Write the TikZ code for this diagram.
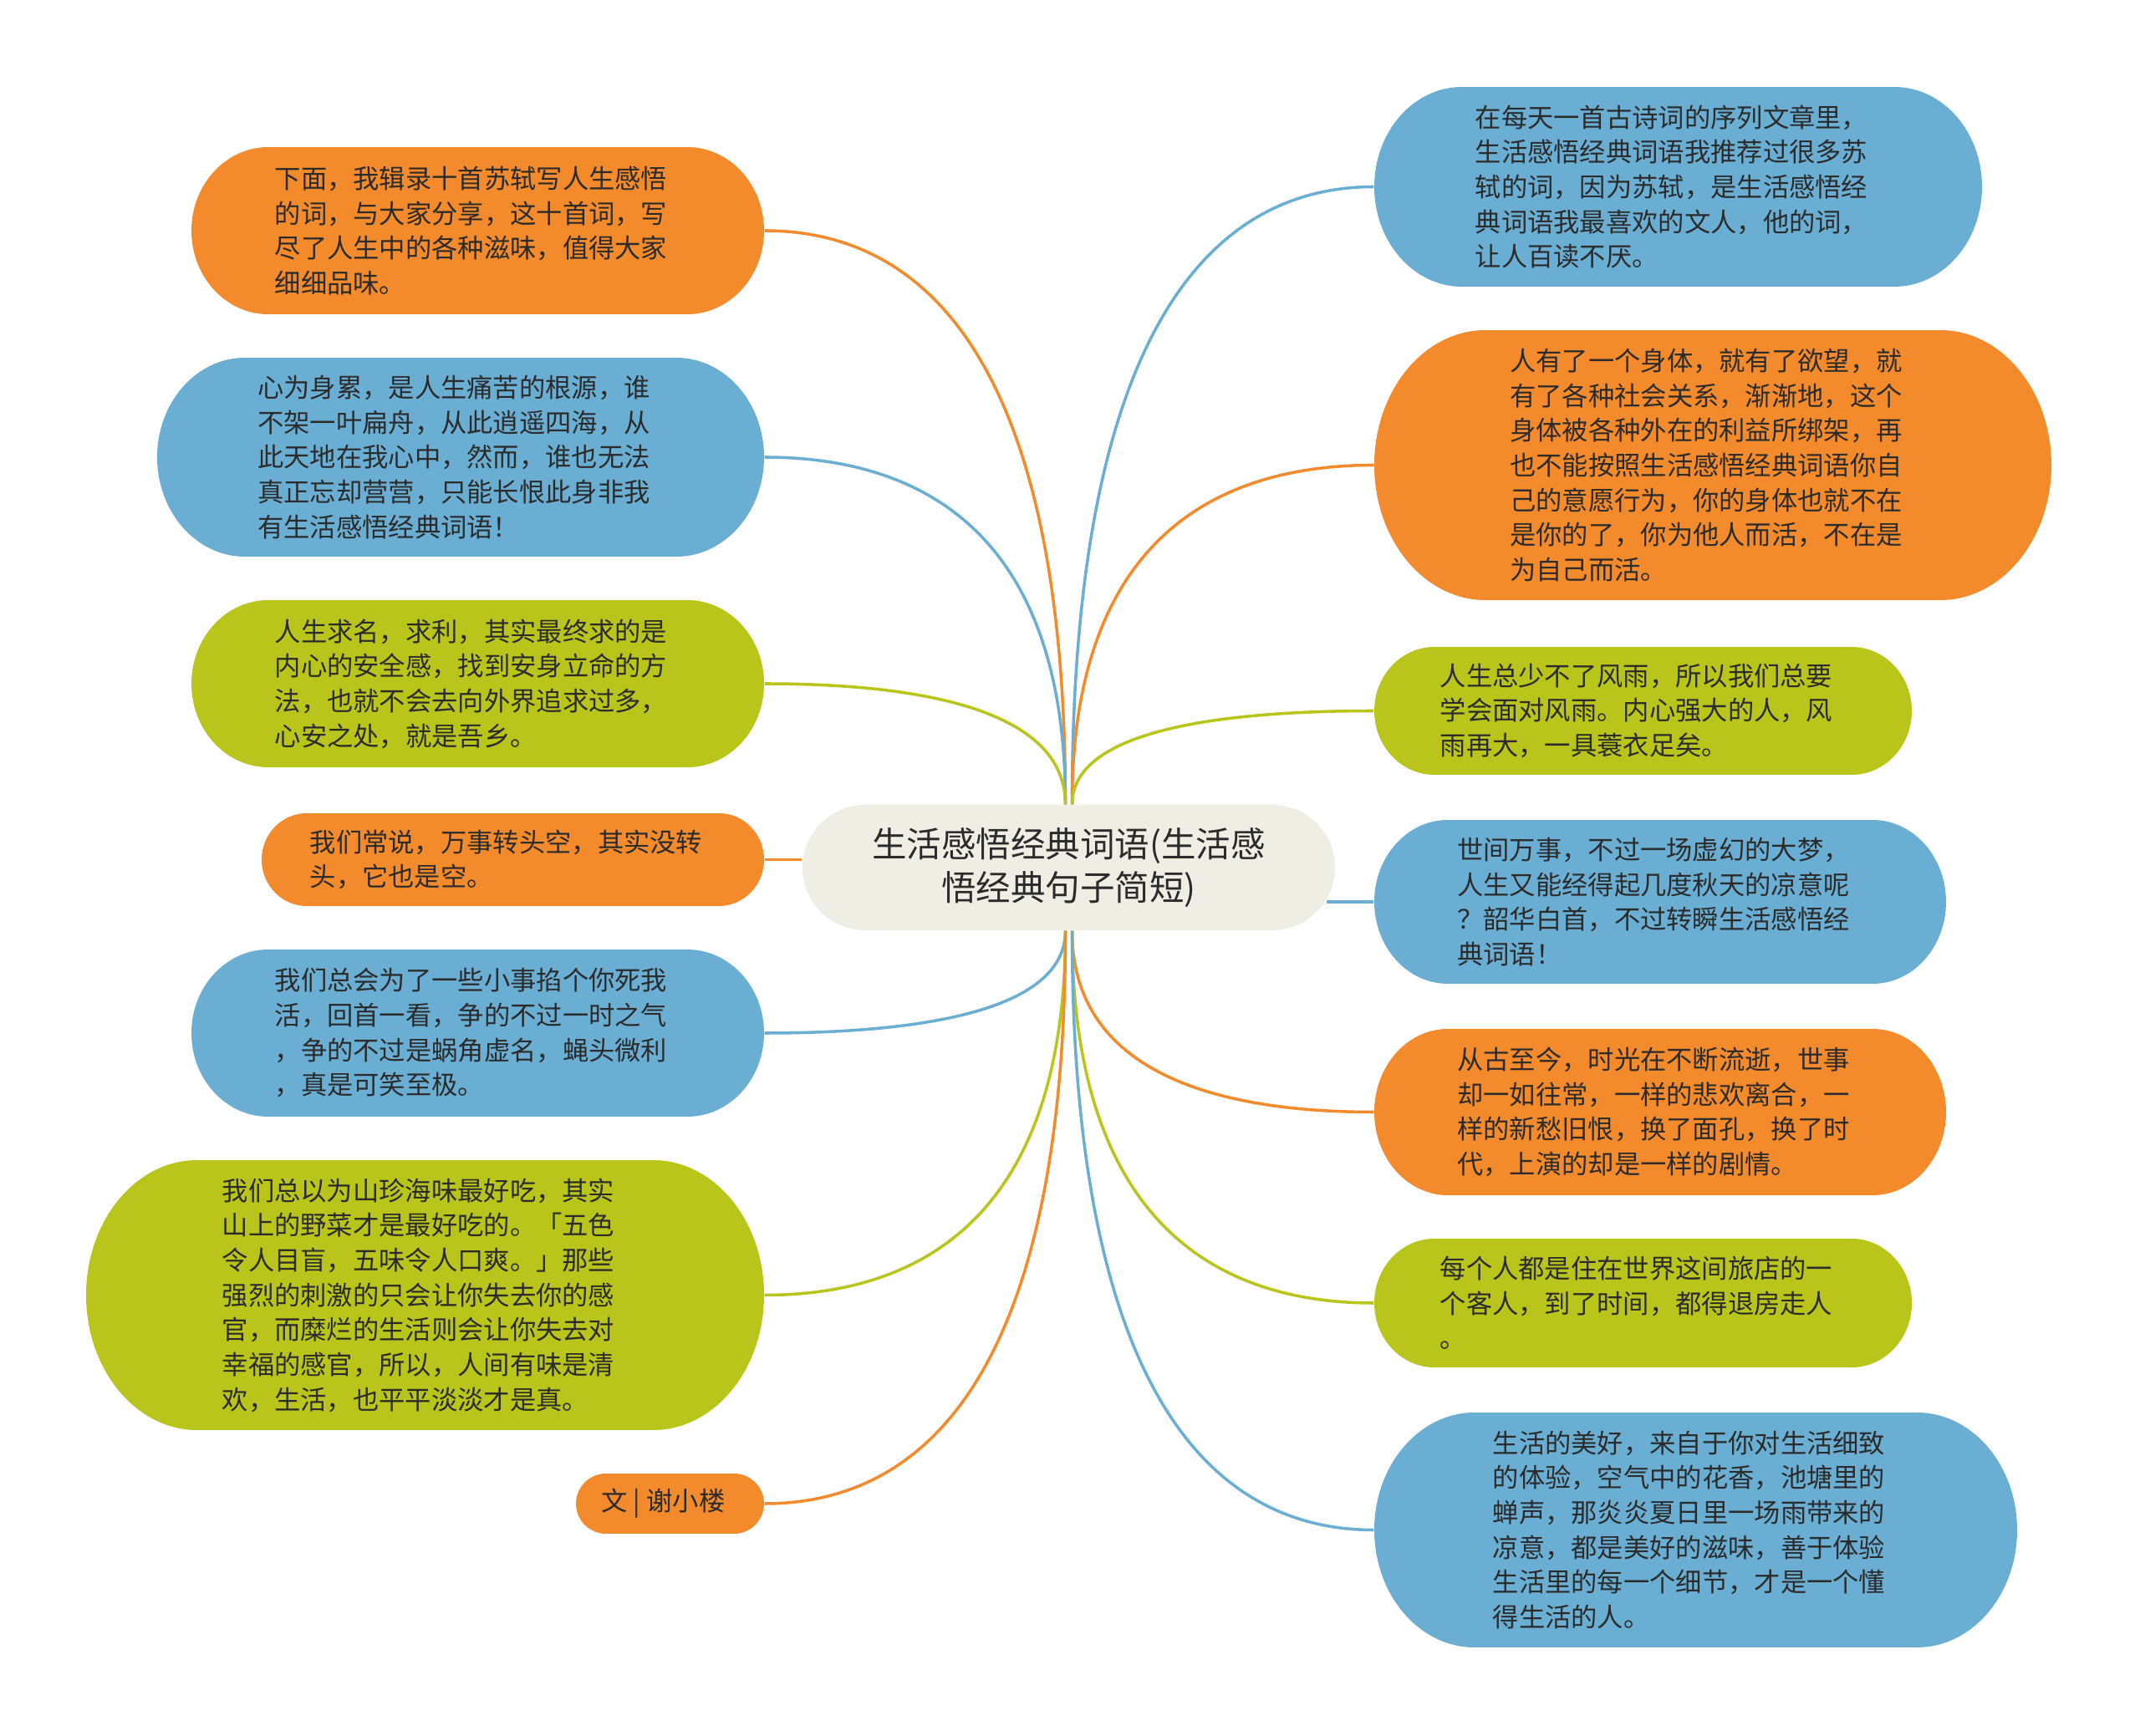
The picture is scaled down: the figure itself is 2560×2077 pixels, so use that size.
\documentclass[tikz,border=0pt]{standalone}
\usepackage{fontspec}
\newfontfamily\cjk{Noto Sans CJK SC}
\usetikzlibrary{calc}
\definecolor{orng}{HTML}{F38B2C}
\definecolor{blu}{HTML}{6AAFD3}
\definecolor{grn}{HTML}{B9C51A}
\definecolor{ctr}{HTML}{EEEEE5}
\definecolor{textc}{HTML}{2B2B2B}
\tikzset{
  txt/.style={inner sep=0pt, align=left, text=textc, font=\cjk\fontsize{8.9pt}{11.85pt}\selectfont},
  ctxt/.style={inner sep=0pt, align=center, text=textc, font=\cjk\fontsize{11.8pt}{14.8pt}\selectfont},
  con/.style={line width=1pt}
}
% name, x1, y1, x2, y2, rx, colour, text
\newcommand\pill[8]{%
  \fill[#7] ({#2+#6},#3) rectangle ({#4-#6},#5);
  \fill[#7] ({#2+#6},{(#3+#5)/2}) ellipse [x radius=#6, y radius={(#5-#3)/2}];
  \fill[#7] ({#4-#6},{(#3+#5)/2}) ellipse [x radius=#6, y radius={(#5-#3)/2}];
  \node[inner sep=0pt, minimum width={(#4-#2)*0.01cm}, minimum height={(#5-#3)*0.01cm}] (#1) at ({(#2+#4)/2},{(#3+#5)/2}) {};
  \node[txt] (#1t) at ({(#2+#4)/2-8},{(#3+#5)/2}) {#8};}
\newcommand\conn[3]{\draw[con,#1] (#2) .. controls ($(#2 |- #3)!0.2!(#2)$) and ($(#3)!0.5!(#2 |- #3)$) .. (#3);}
\begin{document}
\begin{tikzpicture}[x=0.01cm,y=-0.01cm]
\useasboundingbox (0,0) rectangle (2560,2077);
\fill[white] (0,0) rectangle (2560,2077);
% centre
\fill[ctr] (1035,963) rectangle (1522,1113);
\fill[ctr] (1035,1038) ellipse [x radius=75, y radius=75];
\fill[ctr] (1522,1038) ellipse [x radius=75, y radius=75];
\node[ctxt, minimum width={637*0.01cm}, minimum height={150*0.01cm}] (c) at (1278.5,1038) {生活感悟经典词语(生活感\\悟经典句子简短)};
% left
\pill{L1}{229}{176}{914}{376}{92}{orng}{下面，我辑录十首苏轼写人生感悟\\的词，与大家分享，这十首词，写\\尽了人生中的各种滋味，值得大家\\细细品味。}
\pill{L2}{188}{428}{914}{666}{105}{blu}{心为身累，是人生痛苦的根源，谁\\不架一叶扁舟，从此逍遥四海，从\\此天地在我心中，然而，谁也无法\\真正忘却营营，只能长恨此身非我\\有生活感悟经典词语！}
\pill{L3}{229}{718}{914}{918}{92}{grn}{人生求名，求利，其实最终求的是\\内心的安全感，找到安身立命的方\\法，也就不会去向外界追求过多，\\心安之处，就是吾乡。}
\pill{L4}{313}{973}{914}{1084}{54}{orng}{我们常说，万事转头空，其实没转\\头，它也是空。}
\pill{L5}{229}{1136}{914}{1336}{92}{blu}{我们总会为了一些小事掐个你死我\\活，回首一看，争的不过一时之气\\，争的不过是蜗角虚名，蝇头微利\\，真是可笑至极。}
\pill{L6}{103}{1388}{914}{1711}{133}{grn}{我们总以为山珍海味最好吃，其实\\山上的野菜才是最好吃的。「五色\\令人目盲，五味令人口爽。」那些\\强烈的刺激的只会让你失去你的感\\官，而糜烂的生活则会让你失去对\\幸福的感官，所以，人间有味是清\\欢，生活，也平平淡淡才是真。}
\pill{L7}{689}{1763}{914}{1835}{36}{orng}{文 | 谢小楼}
% right
\pill{R1}{1644}{104}{2371}{343}{105}{blu}{在每天一首古诗词的序列文章里，\\生活感悟经典词语我推荐过很多苏\\轼的词，因为苏轼，是生活感悟经\\典词语我最喜欢的文人，他的词，\\让人百读不厌。}
\pill{R2}{1644}{395}{2454}{718}{133}{orng}{人有了一个身体，就有了欲望，就\\有了各种社会关系，渐渐地，这个\\身体被各种外在的利益所绑架，再\\也不能按照生活感悟经典词语你自\\己的意愿行为，你的身体也就不在\\是你的了，你为他人而活，不在是\\为自己而活。}
\pill{R3}{1644}{774}{2287}{927}{72}{grn}{人生总少不了风雨，所以我们总要\\学会面对风雨。内心强大的人，风\\雨再大，一具蓑衣足矣。}
\pill{R4}{1644}{981}{2328}{1177}{88}{blu}{世间万事，不过一场虚幻的大梦，\\人生又能经得起几度秋天的凉意呢\\？韶华白首，不过转瞬生活感悟经\\典词语！}
\pill{R5}{1644}{1231}{2328}{1430}{88}{orng}{从古至今，时光在不断流逝，世事\\却一如往常，一样的悲欢离合，一\\样的新愁旧恨，换了面孔，换了时\\代，上演的却是一样的剧情。}
\pill{R6}{1644}{1482}{2287}{1636}{72}{grn}{每个人都是住在世界这间旅店的一\\个客人，到了时间，都得退房走人\\。}
\pill{R7}{1644}{1690}{2413}{1971}{120}{blu}{生活的美好，来自于你对生活细致\\的体验，空气中的花香，池塘里的\\蝉声，那炎炎夏日里一场雨带来的\\凉意，都是美好的滋味，善于体验\\生活里的每一个细节，才是一个懂\\得生活的人。}
% start points
\coordinate (tl) at ($(c.north)+(-4,0)$);
\coordinate (tr) at ($(c.north)+(4,0)$);
\coordinate (bl) at ($(c.south)+(-4,0)$);
\coordinate (br) at ($(c.south)+(4,0)$);
% connectors
\conn{orng}{tl}{L1.east}
\conn{blu}{tl}{L2.east}
\conn{grn}{tl}{L3.east}
\draw[con,orng] (L4.east) -- (L4.east -| c.west);
\conn{blu}{bl}{L5.east}
\conn{grn}{bl}{L6.east}
\conn{orng}{bl}{L7.east}
\conn{blu}{tr}{R1.west}
\conn{orng}{tr}{R2.west}
\conn{grn}{tr}{R3.west}
\draw[con,blu] (R4.west) -- ($(R4.west -| c.east)+(-11,0)$);
\conn{orng}{br}{R5.west}
\conn{grn}{br}{R6.west}
\conn{blu}{br}{R7.west}
\end{tikzpicture}
\end{document}
